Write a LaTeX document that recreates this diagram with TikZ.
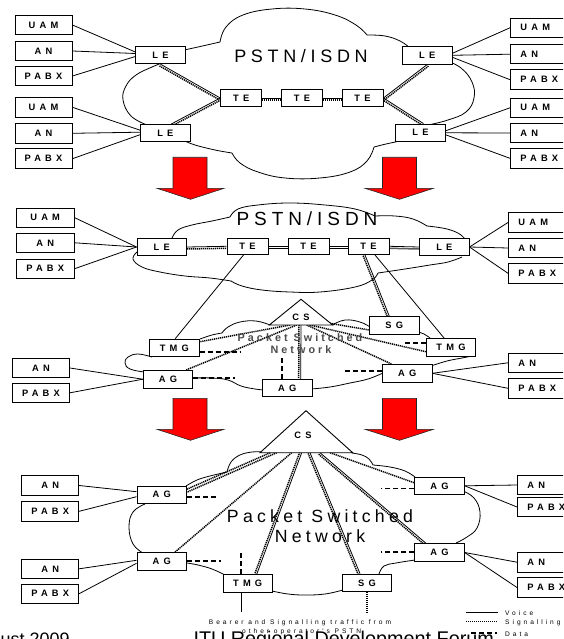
\documentclass[tikz,border=0pt]{standalone}
\usepackage{fontspec}
\setmainfont{Liberation Sans}
\newfontfamily\fA[LetterSpace=26]{Liberation Sans}
\newfontfamily\fB[LetterSpace=45, BoldFont={Liberation Sans Bold}]{Liberation Sans}
\newfontfamily\fC[LetterSpace=28, BoldFont={Liberation Sans Bold}]{Liberation Sans}
\newfontfamily\fD[LetterSpace=24]{Liberation Sans}
\usetikzlibrary{calc,backgrounds}
\newcommand\boxfont{\fB\bfseries\fontsize{9.3}{10}\selectfont}
\newcommand\smallfont{\fB\fontsize{6.6}{7}\selectfont}
\newcommand\vsl[2]{%
  \draw[voice] #1 -- #2;
  \draw[sig] ($#1!2pt!-90:#2$) -- ($#2!2pt!90:#1$);}
\tikzset{
  box/.style={draw, fill=white, line width=0.9pt, inner sep=0pt,
    minimum width=49.5pt, minimum height=17.5pt, font=\boxfont},
  tebox/.style={box, minimum width=41pt, minimum height=16.5pt},
  lbox/.style={box, minimum width=57pt, minimum height=19.5pt},
  rbox/.style={draw, fill=white, line width=0.9pt, anchor=west, inner xsep=10pt,
    inner ysep=0pt, text width=50pt, align=left, minimum height=19.5pt, font=\boxfont},
  voice/.style={line width=0.8pt},
  sig/.style={line width=1.5pt, dash pattern=on 1.2pt off 0.8pt},
  data/.style={line width=1.6pt, dash pattern=on 5pt off 3pt},
  cloud/.style={line width=0.8pt},
  redarrow/.style={fill=red, draw=black!85, line width=0.6pt},
  trg/.style={draw, fill=white, line width=0.9pt, line join=miter},
}
\begin{document}
\begin{tikzpicture}[x=1pt,y=-1pt]
\useasboundingbox (0,0) rectangle (563,639);
\clip (0,0) rectangle (563,639);

% ---------------- top section nodes
\node[lbox] (lu1) at (43.5,25) {UAM};
\node[lbox] (la1) at (43.5,51) {AN};
\node[lbox] (lp1) at (43.5,76) {PABX};
\node[lbox] (lu2) at (43.5,107.3) {UAM};
\node[lbox] (la2) at (43.5,133.3) {AN};
\node[lbox] (lp2) at (43.5,158.7) {PABX};
\node[rbox] (ru1) at (510,27.8) {UAM};
\node[rbox] (ra1) at (510,54.2) {AN};
\node[rbox] (rp1) at (510,79.7) {PABX};
\node[rbox] (ru2) at (510,107.8) {UAM};
\node[rbox] (ra2) at (510,133) {AN};
\node[rbox] (rp2) at (510,158.3) {PABX};
\node[box] (leTL) at (160.5,55) {LE};
\node[box] (leTR) at (427.2,55.3) {LE};
\node[box] (leBL) at (165.3,133.2) {LE};
\node[box] (leBR) at (420.5,132.8) {LE};
\node[tebox] (te1) at (241.2,98) {TE};
\node[tebox] (te2) at (302,98) {TE};
\node[tebox] (te3) at (362.5,98) {TE};
\node[font=\fA\fontsize{18}{20}\selectfont, inner sep=0pt] (pstn1) at (301,56) {PSTN/ISDN};

% ---------------- middle section nodes
\node[lbox, minimum width=58pt] (mu) at (45.2,217.7) {UAM};
\node[lbox, minimum width=58pt] (ma) at (45.2,242.8) {AN};
\node[lbox, minimum width=58pt] (mp) at (45.2,268.7) {PABX};
\node[rbox] (mru) at (508,222.5) {UAM};
\node[rbox] (mra) at (508,248) {AN};
\node[rbox] (mrp) at (508,273.3) {PABX};
\node[box] (mleL) at (161.7,247) {LE};
\node[tebox] (mte1) at (247.5,246.3) {TE};
\node[tebox] (mte2) at (308.5,246.3) {TE};
\node[tebox] (mte3) at (368.5,246.3) {TE};
\node[box] (mleR) at (444.3,247) {LE};
\node[font=\fA\fontsize{19}{21}\selectfont, inner sep=0pt] (pstn2) at (307,218.7) {PSTN/ISDN};
\node[box] (sg) at (394.3,325.5) {SG};
\node[box] (tmgL) at (174.3,347.8) {TMG};
\node[box] (tmgR) at (451,347.5) {TMG};
\node[box] (agL) at (168,379.2) {AG};
\node[box] (agM) at (287.2,388) {AG};
\node[box] (agR) at (407.2,373.3) {AG};
\node[lbox] (manL) at (41,368) {AN};
\node[lbox] (mpaL) at (41,392.8) {PABX};
\node[rbox] (manR) at (508,362.8) {AN};
\node[rbox] (mpaR) at (508,388.3) {PABX};
\draw[trg] (301,299.3) -- (332.7,325) -- (269.3,325) -- cycle;
\coordinate (csmb) at (301,325);
\node[font=\boxfont, inner sep=0pt] (csm) at (301,317) {CS};
\node[font=\fC\bfseries\fontsize{10.8}{12}\selectfont, text=black!70, inner sep=0pt] (psn1) at (300,337.5) {Packet Switched};
\node[font=\fC\bfseries\fontsize{10.8}{12}\selectfont, text=black!70, inner sep=0pt] (net1) at (301,349.5) {Network};

% ---------------- bottom section nodes
\node[box] (agTL) at (161.7,494.7) {AG};
\node[box] (agBL) at (161.7,561.3) {AG};
\node[box] (agTR) at (439.5,485.8) {AG};
\node[box] (agBR) at (439.5,552.5) {AG};
\node[box] (tmgB) at (247.7,583.5) {TMG};
\node[box] (sgB) at (367,582.8) {SG};
\node[lbox] (banL1) at (50.2,485.5) {AN};
\node[lbox] (bpaL1) at (50.2,511.3) {PABX};
\node[lbox] (banL2) at (50.2,568.8) {AN};
\node[lbox] (bpaL2) at (50.2,593.7) {PABX};
\node[rbox] (banR1) at (517,485) {AN};
\node[rbox] (bpaR1) at (517,507) {PABX};
\node[rbox] (banR2) at (517,562.2) {AN};
\node[rbox] (bpaR2) at (517,587.5) {PABX};
\draw[trg] (306,410.7) -- (352.7,452.7) -- (260,452.7) -- cycle;
\coordinate (csbb) at (306.3,452.7);
\node[font=\boxfont, inner sep=0pt] (csb) at (303,435) {CS};
\node[font=\fD\fontsize{17.7}{20}\selectfont, inner sep=0pt] (psn2) at (320,516) {Packet Switched};
\node[font=\fD\fontsize{17.7}{20}\selectfont, inner sep=0pt] (net2) at (320,536.3) {Network};

% ---------------- red arrows
\foreach \dy in {0,241}{
  \path[redarrow] (173,{157.3+\dy}) -- (207,{157.3+\dy}) -- (207,{188.3+\dy}) -- (224,{188.3+\dy})
     -- (190.5,{199.3+\dy}) -- (157,{188.3+\dy}) -- (173,{188.3+\dy}) -- cycle;
  \path[redarrow] (382.5,{157.3+\dy}) -- (416.5,{157.3+\dy}) -- (416.5,{188.3+\dy}) -- (433.5,{188.3+\dy})
     -- (399.5,{199.3+\dy}) -- (365,{188.3+\dy}) -- (382.5,{188.3+\dy}) -- cycle;
}

% ---------------- bottom texts
\node[font=\smallfont, anchor=base, inner sep=0pt] (bt1) at (300,624.5) {Bearer and Signalling traffic from};
\node[font=\smallfont, anchor=base, inner sep=0pt] (bt2) at (301.7,633) {other operator's PSTN};
\node[font=\fontsize{19.8}{22}\selectfont, anchor=base west, inner sep=0pt] (foot) at (193.3,645.9) {ITU Regional Development Forum};
\node[font=\fontsize{18}{20}\selectfont, anchor=base west, inner sep=0pt] (date) at (0.5,645.2) {ust 2009};
% legend
\coordinate (lv1) at (466,612.5); \coordinate (lv2) at (498,612.5);
\coordinate (ls1) at (466,621.5); \coordinate (ls2) at (497,621.5);
\coordinate (ld1) at (471,633); \coordinate (ld2) at (497,633);
\draw[voice] (lv1) -- (lv2);
\draw[sig] (ls1) -- (ls2);
\draw[data] (ld1) -- (ld2);
\node[font=\smallfont, anchor=base west, inner sep=0pt] (lgv) at (505,615.5) {Voice};
\node[font=\smallfont, anchor=base west, inner sep=0pt] (lgs) at (505,624.5) {Signalling};
\node[font=\smallfont, anchor=base west, inner sep=0pt] (lgd) at (505,636.5) {Data};

\begin{scope}[on background layer]
\fill[white] (0,0) rectangle (563,639);
% ---- top cloud
\draw[cloud] plot[smooth,tension=.7] coordinates {(175,52) (198,47) (220,42)};
\draw[cloud] plot[smooth,tension=.7] coordinates {(220,42) (226,27) (243,15) (272,9) (305,9) (335,15) (356,25) (367,35)};
\draw[cloud] plot[smooth,tension=.7] coordinates {(367,35) (385,36) (400,41) (410,48)};
\draw[cloud] plot[smooth,tension=.7] coordinates {(445,60) (461,68) (472,82) (474,98) (466,112) (448,120) (428,125)};
\draw[cloud] plot[smooth,tension=.7] coordinates {(400,141) (386,144) (374,147)};
\draw[cloud] plot[smooth,tension=.7] coordinates {(374,147) (367,161) (350,172) (320,178) (285,178) (258,172) (240,163) (232,153)};
\draw[cloud] plot[smooth,tension=.7] coordinates {(232,153) (215,150) (195,145) (185,141)};
\draw[cloud] plot[smooth,tension=.7] coordinates {(147,125) (131,116) (123,100) (126,86) (136,75) (152,67) (162,63)};
% ---- middle top cloud
\draw[cloud] plot[smooth,tension=.7] coordinates {(172,238) (178,230) (192,225) (212,221) (230,217)};
\draw[cloud] plot[smooth,tension=.7] coordinates {(230,217) (238,209) (258,205) (290,203) (325,205) (355,209) (375,216)};
\draw[cloud] plot[smooth,tension=.7] coordinates {(375,216) (395,216) (413,219) (427,226)};
\draw[cloud] plot[smooth,tension=.7] coordinates {(427,226) (447,229) (461,235) (467,243)};
\draw[cloud] plot[smooth,tension=.7] coordinates {(462,257) (448,262) (430,265) (405,269) (378,273)};
\draw[cloud] plot[smooth,tension=.7] coordinates {(378,273) (372,280) (355,287) (320,292) (290,292) (262,290) (242,286) (231,281)};
\draw[cloud] plot[smooth,tension=.7] coordinates {(231,281) (210,278) (185,276) (160,272) (142,267) (133,259) (137,252)};
% ---- middle packet cloud
\draw[cloud] plot[smooth,tension=.7] coordinates {(152,357) (138,354) (128,357) (125,363) (130,369) (144,372)};
\draw[cloud] plot[smooth,tension=.7] coordinates {(193,378) (212,378) (228,380) (241,386) (255,389) (264,390)};
\draw[cloud] plot[smooth,tension=.7] coordinates {(311,389) (330,387) (350,383) (368,379) (383,373)};
\draw[cloud] plot[smooth,tension=.7] coordinates {(431,366) (447,361) (462,358) (472,356)};
\draw[cloud] plot[smooth,tension=.7] coordinates {(418,332) (424,334) (430,338)};
\draw[cloud] plot[smooth,tension=.7] coordinates {(370,327) (360,322) (345,320) (332,325)};
\draw[cloud] plot[smooth,tension=.7] coordinates {(270,325) (256,321) (240,322) (228,327) (222,333)};
\draw[cloud] plot[smooth,tension=.7] coordinates {(222,333) (212,335) (200,339)};
% ---- bottom cloud
\draw[cloud] plot[smooth,tension=.7] coordinates {(186,486) (197,480) (210,476) (227,472)};
\draw[cloud] plot[smooth,tension=.7] coordinates {(227,472) (231,462) (240,455) (252,452) (262,452)};
\draw[cloud] plot[smooth,tension=.7] coordinates {(352,453) (362,455) (369,459) (373,465)};
\draw[cloud] plot[smooth,tension=.7] coordinates {(373,465) (390,467) (405,471) (415,477)};
\draw[cloud] plot[smooth,tension=.7] coordinates {(463,491) (474,498) (480,512) (477,528) (467,537) (456,543)};
\draw[cloud] plot[smooth,tension=.7] coordinates {(415,560) (396,563) (384,566) (379,574)};
\draw[cloud] plot[smooth,tension=.7] coordinates {(343,590) (325,594) (305,595) (288,594) (272,591)};
\draw[cloud] plot[smooth,tension=.7] coordinates {(225,575) (212,569) (198,565) (187,563)};
\draw[cloud] plot[smooth,tension=.7] coordinates {(143,553) (133,544) (129,527) (133,512) (145,504)};

% ---- top connectors
\draw[voice] (lu1.east) -- ([yshift=3pt]leTL.west);
\draw[voice] (la1.east) -- ([yshift=1.5pt]leTL.west);
\draw[voice] (lp1.east) -- ([yshift=-1.5pt]leTL.west);
\draw[voice] (lu2.east) -- ([yshift=3pt]leBL.west);
\draw[voice] (la2.east) -- ([yshift=1pt]leBL.west);
\draw[voice] (lp2.east) -- ([yshift=-1.5pt]leBL.west);
\draw[voice] ([yshift=2pt]leTR.east) -- (ru1.west);
\draw[voice] (leTR.east) -- (ra1.west);
\draw[voice] ([yshift=-2pt]leTR.east) -- (rp1.west);
\draw[voice] ([yshift=2pt]leBR.east) -- (ru2.west);
\draw[voice] (leBR.east) -- (ra2.west);
\draw[voice] ([yshift=-2pt]leBR.east) -- (rp2.west);
\vsl{(leTL.south)}{(te1.west)}
\vsl{([xshift=6pt]leBL.north)}{(te1.west)}
\vsl{(te3.east)}{(leTR.south)}
\vsl{(te3.east)}{([xshift=3pt]leBR.north)}
\vsl{(te1.east)}{(te2.west)}
\vsl{(te2.east)}{(te3.west)}

% ---- middle connectors
\draw[voice] (mu.east) -- (mleL.west);
\draw[voice] (ma.east) -- (mleL.west);
\draw[voice] (mp.east) -- (mleL.west);
\draw[voice] (mleR.east) -- (mru.west);
\draw[voice] (mleR.east) -- (mra.west);
\draw[voice] (mleR.east) -- (mrp.west);
\vsl{(mleL.east)}{(mte1.west)}
\vsl{(mte1.east)}{(mte2.west)}
\vsl{(mte2.east)}{(mte3.west)}
\vsl{(mte3.east)}{(mleR.west)}
\draw[voice] ([xshift=-4pt]mte1.south) -- ([xshift=1pt]tmgL.north);
\vsl{([xshift=-3.5pt]mte3.south)}{([xshift=-5pt]sg.north)}
\draw[voice] ([xshift=6.5pt]mte3.south) -- ([xshift=-6.7pt]tmgR.north);
\draw[sig] ([xshift=-11pt]csmb) -- ([yshift=6pt]tmgL.east);
\draw[sig] ([xshift=-4.3pt]csmb) -- ([xshift=18pt]agL.north);
\vsl{(csmb)}{([xshift=13.5pt]agM.north)}
\draw[sig] ([xshift=5.7pt]csmb) -- ([xshift=-15.5pt]agR.north);
\draw[sig] ([xshift=9pt]csmb) -- ([yshift=-4.2pt]tmgR.west);
\draw[sig] ([xshift=29pt,yshift=1.7pt]csmb) -- ([yshift=-4.5pt]sg.west);
\draw[data] ([yshift=-4pt]tmgL.east) -- ++(41,0);
\draw[data] ([yshift=1.5pt]agL.east) -- ++(42,0);
\draw[data] ([xshift=-5.5pt]agM.north) -- ++(0,-21.6);
\draw[data] ([yshift=2.6pt]agR.west) -- ++(-39.4,0);
\draw[data] ([yshift=4.8pt]tmgR.west) -- ++(-22.7,0);
\draw[voice] (manL.east) -- (agL.west);
\draw[voice] (mpaL.east) -- (agL.west);
\draw[voice] (agR.east) -- (manR.west);
\draw[voice] (agR.east) -- (mpaR.west);

% ---- bottom connectors
\draw[sig] ([xshift=-36pt]csbb) -- ([yshift=5.5pt]agTL.east);
\draw[sig] ([xshift=-29.6pt]csbb) -- ([yshift=2.5pt]agTL.east);
\draw[sig] ([xshift=-14.6pt]csbb) -- ([xshift=13.3pt]agBL.north);
\vsl{([xshift=-4.6pt]csbb)}{([xshift=9pt]tmgB.north)}
\vsl{([xshift=3.7pt]csbb)}{([xshift=-7pt]sgB.north)}
\vsl{([xshift=13.7pt]csbb)}{([xshift=-13.5pt]agBR.north)}
\draw[sig] ([xshift=23.7pt]csbb) -- ([yshift=3pt]agTR.west);
\draw[data] ([yshift=-2pt]agTL.east) -- ++(31.6,0);
\draw[data] ([yshift=0.3pt]agBL.east) -- ++(34.5,0);
\draw[data] ([xshift=-7pt]tmgB.north) -- ++(0,-21);
\draw[data] ([yshift=-2.5pt]agTR.west) -- ++(-33.3,0);
\draw[data] ([yshift=0.8pt]agBR.west) -- ++(-33.3,0);
\draw[voice] (banL1.east) -- ([yshift=3pt]agTL.west);
\draw[voice] (bpaL1.east) -- ([yshift=-2pt]agTL.west);
\draw[voice] (banL2.east) -- ([yshift=1pt]agBL.west);
\draw[voice] (bpaL2.east) -- ([yshift=-2pt]agBL.west);
\draw[voice] (agTR.east) -- (banR1.west);
\draw[voice] (agTR.east) -- (bpaR1.west);
\draw[voice] (agBR.east) -- (banR2.west);
\draw[voice] (agBR.east) -- (bpaR2.west);
\coordinate (tmgEnd) at ([xshift=-6pt]tmgB.south);
\draw[voice] (tmgEnd) -- ++(0,19);
\draw[sig] (sgB.south) -- ++(0,20.5);
\end{scope}
\end{tikzpicture}
\end{document}
